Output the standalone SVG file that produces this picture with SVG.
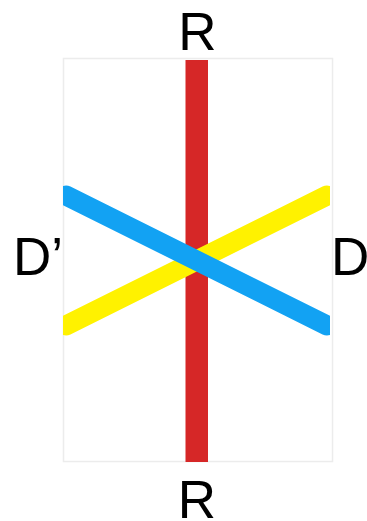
<svg xmlns="http://www.w3.org/2000/svg" width="367" height="521" viewBox="0 0 367 521">
<style>
.lbl{font-family:"Liberation Sans",Arial,sans-serif;font-size:53px;fill:#000}
.band{fill:none;stroke-width:20;stroke-linecap:round}
</style>
<defs>
<clipPath id="c"><rect x="63" y="58" width="267" height="404"/></clipPath>
</defs>
<rect width="367" height="521" fill="#fff"/>
<g id="frame"><rect x="63.5" y="58.5" width="269" height="403" fill="#fff" stroke="#ececec" stroke-width="1.5"/></g>
<g id="connectors">
<rect id="red" x="185.5" y="60" width="22.5" height="402" fill="#d62727"/>
<g clip-path="url(#c)">
<line id="yellow" class="band" x1="66" y1="325.5" x2="327" y2="195.5" stroke="#fff200"/>
<line id="blue" class="band" x1="66" y1="195.5" x2="327" y2="325.5" stroke="#12a2f3"/>
</g>
</g>
<g id="label-top"><text class="lbl" x="197.5" y="50" text-anchor="middle">R</text></g>
<g id="label-bottom"><text class="lbl" x="197" y="518" text-anchor="middle">R</text></g>
<g id="label-left"><text class="lbl" x="13" y="275">D’</text></g>
<g id="label-right"><text class="lbl" x="331" y="275">D</text></g>
</svg>
